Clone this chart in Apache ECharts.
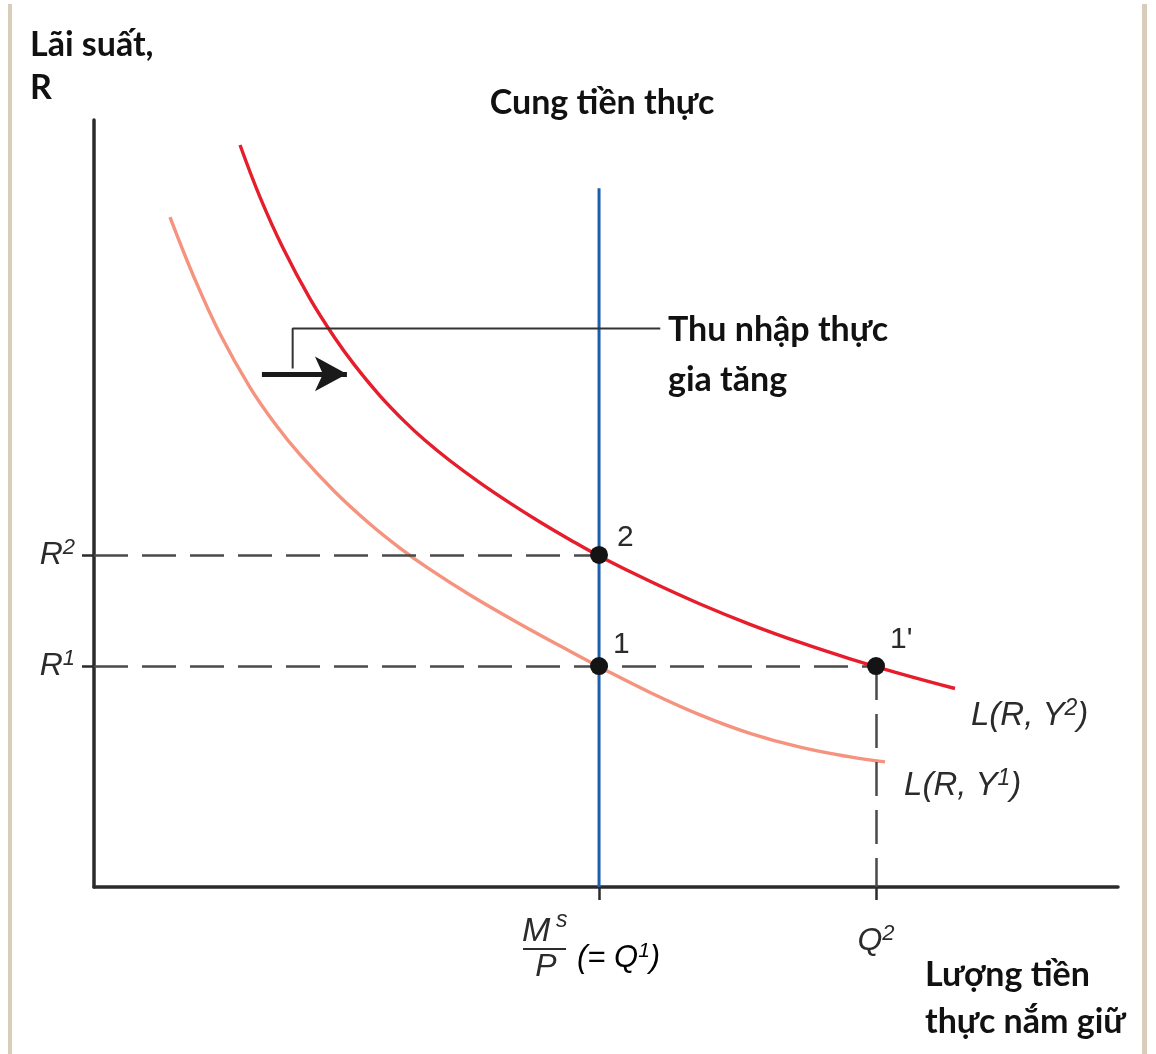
<!DOCTYPE html>
<html>
<head>
<meta charset="utf-8">
<script src="https://cdn.jsdelivr.net/npm/echarts@6/dist/echarts.min.js"></script>
<style>
  html, body { margin: 0; padding: 0; background: #fff; }
  #chart { width: 1156px; height: 1054px; }
</style>
</head>
<body>
<div id="chart"></div>
<script>
// Money market: real money demand L(R, Y) and the real money supply.
// Quantities and rates are in arbitrary units on 0–100 scales.

// Money demand at the higher income level Y2 (points [quantity, rate])
const demandY2 = [
  [14.26, 96.74], [16.21, 89.95], [18.46, 83.30], [21.09, 76.70], [23.54, 71.54],
  [25.49, 67.97], [27.93, 64.04], [30.37, 60.64], [32.32, 58.24], [34.77, 55.57],
  [37.70, 52.69], [40.63, 50.05], [43.55, 47.59], [46.48, 45.28], [49.41, 43.10],
  [54.30, 39.86], [59.18, 36.90], [64.06, 34.25], [68.95, 31.88], [73.83, 29.75],
  [78.71, 27.82], [84.08, 25.88]
];
// Money demand at the initial income level Y1
const demandY1 = [
  [7.42, 87.35], [9.86, 79.21], [12.30, 72.12], [15.23, 65.14], [17.68, 60.39],
  [20.12, 56.36], [23.54, 51.51], [26.95, 47.33], [29.88, 44.19], [32.81, 41.40],
  [36.72, 38.07], [41.60, 34.29], [46.48, 30.73], [49.41, 28.66], [54.30, 25.37],
  [59.18, 22.45], [64.06, 20.04], [68.95, 18.23], [73.83, 16.96], [77.25, 16.32]
];

// Key levels
const Q1 = 49.32;         // real money supply Ms/P
const Q2 = 76.37;
const R1 = 28.81;
const R2 = 43.29;
const supplyTop = 91.1;   // upper end of the supply line

// Equilibrium points
const equilibria = [
  { name: '2',  value: [Q1, R2] },
  { name: '1',  value: [Q1, R1] },
  { name: "1'", value: [Q2, R1] }
];
const pointLabelShift = { '2': [4, -17], '1': [0, -21], "1'": [0, -26] };

// Axis tick labels
const rateTicks = [R1, R2];
const rateLabels = { [R1]: ['R', '1'], [R2]: ['R', '2'] };
const qtyTicks = [Q1, Q2];
const q2Label = ['Q', '2'];
const q1Label = { num: 'M', numSup: 's', den: 'P', rest: '(= Q', restSup: '1', close: ')' };

// Curve names
const curveNames = { y2: ['L(R, Y', '2', ')'], y1: ['L(R, Y', '1', ')'] };

// Text annotations
const yTitle = ['Lãi suất,', 'R'];
const xTitle = ['Lượng tiền', 'thực nắm giữ'];
const supplyTitle = 'Cung tiền thực';
const shiftNote = ['Thu nhập thực', 'gia tăng'];

// Shift arrow and its callout leader (data coordinates)
const shiftArrow = [[16.4, 66.9], [24.7, 66.9]];
const calloutPath = [[19.4, 67.6], [19.4, 72.8], [55.3, 72.8]];

const ITALIC = 'Liberation Sans, Arial, sans-serif';
const BOLD = 'Lato, Noto Sans, sans-serif';
const INK = '#2b2b2b';

const supRich = (size) => ({
  b: { fontFamily: ITALIC, fontStyle: 'italic', fontSize: size, color: INK, lineHeight: size + 4 },
  s: { fontFamily: ITALIC, fontStyle: 'italic', fontSize: Math.round(size * 0.7), color: INK,
       lineHeight: Math.round(size * 0.7), verticalAlign: 'top' }
});

const chart = echarts.init(document.getElementById('chart'), null, { renderer: 'canvas' });

const option = {
  animation: false,
  backgroundColor: '#ffffff',
  grid: { left: 94, right: 38, top: 120, bottom: 167, containLabel: false },
  xAxis: {
    type: 'value', min: 0, max: 100,
    splitLine: { show: false },
    axisLine: { show: true, onZero: false, lineStyle: { color: INK, width: 3.5 } },
    axisTick: { show: true, customValues: qtyTicks, length: 13, lineStyle: { color: INK, width: 2.5 } },
    axisLabel: {
      show: true, customValues: [Q2], margin: 36,
      formatter: () => `{b|${q2Label[0]}}{s|${q2Label[1]}}`,
      rich: supRich(32)
    }
  },
  yAxis: {
    type: 'value', min: 0, max: 100,
    splitLine: { show: false },
    axisLine: { show: true, onZero: false, lineStyle: { color: INK, width: 3.5 } },
    axisTick: { show: true, customValues: rateTicks, length: 12, lineStyle: { color: INK, width: 2.5 } },
    axisLabel: {
      show: true, customValues: rateTicks, margin: 19,
      formatter: (v) => {
        const key = rateTicks.reduce((a, b) => Math.abs(b - v) < Math.abs(a - v) ? b : a);
        const t = rateLabels[key];
        return `{b|${t[0]}}{s|${t[1]}}`;
      },
      rich: supRich(32)
    }
  },
  series: [
    {
      // dashed guides to the axes
      type: 'line', data: [], silent: true, z: 1,
      markLine: {
        silent: true, symbol: ['none', 'none'], label: { show: false },
        lineStyle: { color: '#4a4a4a', width: 2.5, type: [34, 14] },
        data: [
          [{ coord: [0, R2] }, { coord: [Q1, R2] }],
          [{ coord: [0, R1] }, { coord: [Q2, R1] }],
          [{ coord: [Q2, R1] }, { coord: [Q2, 0] }]
        ]
      }
    },
    {
      // real money supply
      type: 'line', data: [[Q1, 0], [Q1, supplyTop]], z: 2,
      symbol: 'none', lineStyle: { color: '#1c5faf', width: 3 }
    },
    {
      type: 'line', name: 'L1', data: demandY1, smooth: 0.4, symbol: 'none', z: 3,
      lineStyle: { color: '#f5937f', width: 3.4 },
      endLabel: {
        show: true, offset: [11, 24],
        formatter: () => `{b|${curveNames.y1[0]}}{s|${curveNames.y1[1]}}{b|${curveNames.y1[2]}}`,
        rich: supRich(33)
      }
    },
    {
      type: 'line', name: 'L2', data: demandY2, smooth: 0.4, symbol: 'none', z: 4,
      lineStyle: { color: '#e61e2c', width: 3.4 },
      endLabel: {
        show: true, offset: [8, 27],
        formatter: () => `{b|${curveNames.y2[0]}}{s|${curveNames.y2[1]}}{b|${curveNames.y2[2]}}`,
        rich: supRich(33)
      }
    },
    {
      // callout leader and shift arrow
      type: 'line', data: calloutPath, symbol: 'none', z: 5,
      lineStyle: { color: '#333', width: 2 },
      markLine: {
        silent: true, symbol: ['none', 'arrow'], symbolSize: [26, 32],
        label: { show: false },
        lineStyle: { color: '#1a1a1a', width: 5, type: 'solid' },
        data: [[{ coord: shiftArrow[0] }, { coord: shiftArrow[1] }]]
      }
    },
    {
      type: 'scatter', data: equilibria, z: 6,
      symbolSize: 18, itemStyle: { color: '#141414', opacity: 1 },
      label: {
        show: true, position: 'right', formatter: (p) => p.name,
        fontFamily: ITALIC, fontSize: 30, color: INK
      },
      labelLayout: (p) => {
        const s = pointLabelShift[equilibria[p.dataIndex].name];
        return { dx: s[0], dy: s[1] };
      }
    }
  ]
};

chart.setOption(option);

// Text placed relative to the axes
const at = (x, y) => chart.convertToPixel({ gridIndex: 0 }, [x, y]);
const q1px = at(Q1, 0);
const fx = q1px[0];
const fy = q1px[1];

const boldText = (text, x, y, align) => ({
  type: 'text', x: x, y: y, silent: true,
  style: { text: text, font: `bold 34px ${BOLD}`, fill: '#111', align: align || 'left', verticalAlign: 'middle' }
});

chart.setOption({
  graphic: [
    { type: 'rect', shape: { x: 8, y: 4, width: 4, height: 1050 }, style: { fill: '#d8ccbb' }, silent: true },
    { type: 'rect', shape: { x: 1142, y: 4, width: 5, height: 1050 }, style: { fill: '#d8ccbb' }, silent: true },
    boldText(yTitle[0], 30, 45),
    boldText(yTitle[1], 30, 88),
    boldText(supplyTitle, 602, 103, 'center'),
    boldText(shiftNote[0], 668, 330),
    boldText(shiftNote[1], 668, 380),
    boldText(xTitle[0], 925, 975),
    boldText(xTitle[1], 925, 1022),
    // Ms/P (= Q1) under the supply tick
    {
      type: 'group', x: fx, y: fy, silent: true,
      children: [
        { type: 'text', x: -77, y: 62, style: { text: q1Label.num, font: `italic 34px ${ITALIC}`, fill: INK, align: 'left', verticalAlign: 'bottom' } },
        { type: 'text', x: -43, y: 45, style: { text: q1Label.numSup, font: `italic 23px ${ITALIC}`, fill: INK, align: 'left', verticalAlign: 'bottom' } },
        { type: 'line', shape: { x1: -76, y1: 62, x2: -33, y2: 62 }, style: { stroke: INK, lineWidth: 2 } },
        { type: 'text', x: -53, y: 64, style: { text: q1Label.den, font: `italic 32px ${ITALIC}`, fill: INK, align: 'center', verticalAlign: 'top' } },
        {
          type: 'text', x: -22, y: 71,
          style: {
            text: `{b|${q1Label.rest}}{s|${q1Label.restSup}}{b|${q1Label.close}}`,
            align: 'left', verticalAlign: 'middle',
            rich: {
              b: { fontFamily: ITALIC, fontStyle: 'italic', fontSize: 31, color: INK, lineHeight: 34 },
              s: { fontFamily: ITALIC, fontStyle: 'italic', fontSize: 21, color: INK, lineHeight: 21, verticalAlign: 'top' }
            }
          }
        }
      ]
    }
  ]
});
</script>
</body>
</html>
